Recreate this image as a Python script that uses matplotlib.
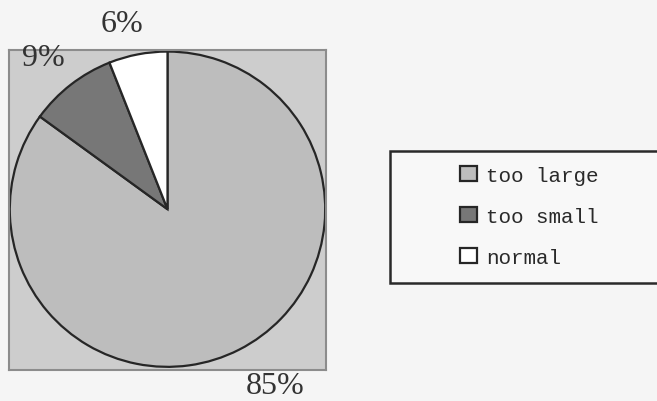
import numpy as np
import matplotlib
matplotlib.use("Agg")
import matplotlib.pyplot as plt
from matplotlib.patches import Rectangle

categories = ["too large", "too small", "normal"]
shares = [85, 9, 6]
slice_colors = ["#bdbdbd", "#777777", "#ffffff"]
# where each percent label sits: distance from centre (radii) and angular nudge (deg)
label_dist = [1.31, 1.24, 1.21]
label_nudge = [4.5, 1.5, 3.0]

W, H = 657, 402
fig = plt.figure(figsize=(W / 100, H / 100), dpi=100, facecolor="#f5f5f5")

# plot area: grey square holding the pie
ax = fig.add_axes([9 / W, 1 - 371 / H, 317 / W, 320 / H])

wedges, _ = ax.pie(shares, colors=slice_colors, startangle=90, counterclock=False,
                   frame=True,
                   wedgeprops=dict(edgecolor="#262626", linewidth=1.6))
ax.set_facecolor("#cdcdcd")
for s in ax.spines.values():
    s.set_visible(True)
    s.set_color("#8c8c8c")
    s.set_linewidth(1.5)
ax.set_xlim(-1.005, 1.005)
ax.set_ylim(-1.02, 1.01)
ax.set_aspect("auto")
ax.set_xticks([])
ax.set_yticks([])

total = sum(shares)
for w, v, d, n in zip(wedges, shares, label_dist, label_nudge):
    mid = np.deg2rad((w.theta1 + w.theta2) / 2 + n)
    ax.text(d * np.cos(mid), d * np.sin(mid), f"{round(100 * v / total)}%",
            ha="center", va="center", fontsize=23, family="Liberation Serif",
            color="#333333", clip_on=False)

# legend box running off the right edge
fig.patches.append(Rectangle((390 / W, 1 - 284 / H), 280 / W, 132 / H,
                             transform=fig.transFigure, facecolor="#f8f8f8",
                             edgecolor="#2a2a2a", linewidth=1.8))
leg = fig.legend(wedges, categories, loc="upper left",
                 bbox_to_anchor=(443 / W, 1 - 150 / H), frameon=False,
                 prop={"family": "Liberation Mono", "size": 15},
                 handlelength=0.82, handleheight=0.77, handletextpad=0.45,
                 labelspacing=1.06, borderpad=0.3)
for t in leg.get_texts():
    t.set_color("#2a2a2a")
for h in leg.legend_handles:
    h.set_edgecolor("#262626")
    h.set_linewidth(1.6)

fig.savefig("out.png", dpi=100, facecolor=fig.get_facecolor())
